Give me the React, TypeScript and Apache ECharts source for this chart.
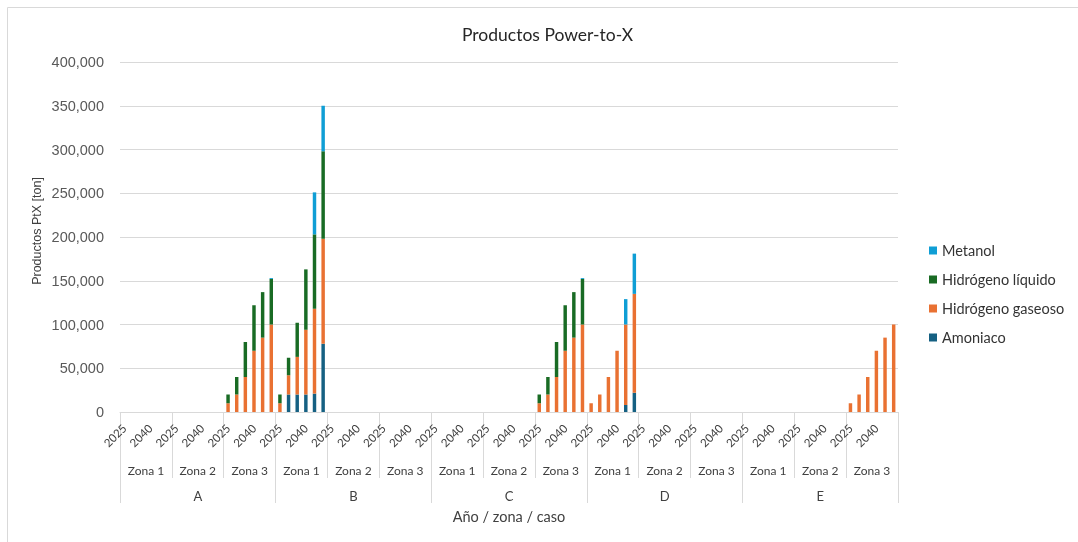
import React, { useEffect, useRef } from "react";
import * as echarts from "echarts";

const cases = ["A", "B", "C", "D", "E"];
const zones = ["Zona 1", "Zona 2", "Zona 3"];
const years = ["2025", "2030", "2035", "2040", "2045", "2050"];

// 90 values each: case A..E (rows) × zona 1..3 × años 2025..2050
const amoniaco = [
  0, 0, 0, 0, 0, 0, 0, 0, 0, 0, 0, 0, 0, 0, 0, 0, 0, 0,
  0, 20000, 20000, 20000, 21000, 78000, 0, 0, 0, 0, 0, 0, 0, 0, 0, 0, 0, 0,
  0, 0, 0, 0, 0, 0, 0, 0, 0, 0, 0, 0, 0, 0, 0, 0, 0, 0,
  0, 0, 0, 0, 8000, 22000, 0, 0, 0, 0, 0, 0, 0, 0, 0, 0, 0, 0,
  0, 0, 0, 0, 0, 0, 0, 0, 0, 0, 0, 0, 0, 0, 0, 0, 0, 0,
];
const hidrogenoGaseoso = [
  0, 0, 0, 0, 0, 0, 0, 0, 0, 0, 0, 0, 10000, 20000, 40000, 70000, 85000, 100000,
  10000, 22000, 43000, 74000, 97000, 120000, 0, 0, 0, 0, 0, 0, 0, 0, 0, 0, 0, 0,
  0, 0, 0, 0, 0, 0, 0, 0, 0, 0, 0, 0, 10000, 20000, 40000, 70000, 85000, 100000,
  10000, 20000, 40000, 70000, 92000, 113000, 0, 0, 0, 0, 0, 0, 0, 0, 0, 0, 0, 0,
  0, 0, 0, 0, 0, 0, 0, 0, 0, 0, 0, 0, 10000, 20000, 40000, 70000, 85000, 100000,
];
const hidrogenoLiquido = [
  0, 0, 0, 0, 0, 0, 0, 0, 0, 0, 0, 0, 10000, 20000, 40000, 52000, 52000, 52000,
  10000, 20000, 39000, 69000, 85000, 100000, 0, 0, 0, 0, 0, 0, 0, 0, 0, 0, 0, 0,
  0, 0, 0, 0, 0, 0, 0, 0, 0, 0, 0, 0, 10000, 20000, 40000, 52000, 52000, 52000,
  0, 0, 0, 0, 0, 0, 0, 0, 0, 0, 0, 0, 0, 0, 0, 0, 0, 0,
  0, 0, 0, 0, 0, 0, 0, 0, 0, 0, 0, 0, 0, 0, 0, 0, 0, 0,
];
const metanol = [
  0, 0, 0, 0, 0, 0, 0, 0, 0, 0, 0, 0, 0, 0, 0, 0, 0, 1000,
  0, 0, 0, 0, 48000, 52000, 0, 0, 0, 0, 0, 0, 0, 0, 0, 0, 0, 0,
  0, 0, 0, 0, 0, 0, 0, 0, 0, 0, 0, 0, 0, 0, 0, 0, 0, 1000,
  0, 0, 0, 0, 29000, 46000, 0, 0, 0, 0, 0, 0, 0, 0, 0, 0, 0, 0,
  0, 0, 0, 0, 0, 0, 0, 0, 0, 0, 0, 0, 0, 0, 0, 0, 0, 0,
];

const seriesNames = ["Amoniaco", "Hidrógeno gaseoso", "Hidrógeno líquido", "Metanol"];
const seriesColors = ["#156082", "#E97132", "#196B24", "#0F9ED5"];

const yearCats: string[] = [];
const zoneCats: string[] = [];
cases.forEach(() => zones.forEach((z) => { zoneCats.push(z); years.forEach((y) => yearCats.push(y)); }));

const TXT = "#404040";
const GRID = "#d9d9d9";

export default function App() {
  const ref = useRef<HTMLDivElement>(null);
  useEffect(() => {
    if (!ref.current) return;
    const chart = echarts.init(ref.current, undefined, { renderer: "svg" });
    const values = [amoniaco, hidrogenoGaseoso, hidrogenoLiquido, metanol];
    chart.setOption({
      animation: false,
      title: {
        text: "Productos Power-to-X",
        left: 457,
        top: 20,
        textStyle: { fontFamily: "Lato", fontSize: 17.5, fontWeight: "normal", color: "#262626" },
      },
      legend: {
        orient: "vertical",
        left: 929,
        top: 243,
        padding: 0,
        itemWidth: 8,
        itemHeight: 8,
        itemGap: 14,
        icon: "rect",
        data: ["Metanol", "Hidrógeno líquido", "Hidrógeno gaseoso", "Amoniaco"],
        textStyle: { fontFamily: "Lato", fontSize: 14.5, color: "#333333" },
      },
      grid: { left: 120, right: 180, top: 62, bottom: 130 },
      xAxis: [
        {
          type: "category",
          data: yearCats,
          position: "bottom",
          axisLine: { lineStyle: { color: GRID } },
          axisTick: { show: false },
          axisLabel: { interval: 2, rotate: 45, margin: 14, fontFamily: "Lato", fontSize: 11.5, color: TXT },
        },
        {
          type: "category",
          data: zoneCats,
          position: "bottom",
          offset: 66,
          axisLine: { show: false },
          axisTick: { show: true, inside: true, length: 66, lineStyle: { color: GRID } },
          axisLabel: { inside: true, interval: 0, margin: 2, fontFamily: "Lato", fontSize: 12, color: TXT },
        },
        {
          type: "category",
          data: cases,
          position: "bottom",
          offset: 91,
          axisLine: { show: false },
          axisTick: { show: true, inside: true, length: 91, lineStyle: { color: GRID } },
          axisLabel: { inside: true, interval: 0, margin: 1, fontFamily: "Lato", fontSize: 13, color: TXT },
          name: "Año / zona / caso",
          nameLocation: "middle",
          nameGap: 5,
          nameTextStyle: { fontFamily: "Lato", fontSize: 14.5, color: TXT, verticalAlign: "top" },
        },
      ],
      yAxis: {
        type: "value",
        min: 0,
        max: 400000,
        interval: 50000,
        axisLine: { show: false },
        axisTick: { show: false },
        splitLine: { lineStyle: { color: GRID } },
        axisLabel: {
          margin: 16,
          fontFamily: "Liberation Sans",
          fontSize: 14.5,
          color: "#595959",
          formatter: (v: number) => v.toLocaleString("en-US"),
        },
      },
      graphic: [
        {
          type: "rect",
          silent: true,
          shape: { x: 7.5, y: 7.5, width: 1100, height: 540 },
          style: { fill: "none", stroke: GRID, lineWidth: 1 },
        },
        {
          type: "text",
          x: 37,
          y: 231,
          rotation: Math.PI / 2,
          style: {
            text: "Productos PtX [ton]",
            fontFamily: "Liberation Sans",
            fontSize: 12.5,
            fill: TXT,
            align: "center",
            verticalAlign: "middle",
          },
        },
      ],
      series: seriesNames.map((name, i) => ({
        name,
        type: "bar",
        stack: "total",
        xAxisIndex: 0,
        barWidth: "40%",
        itemStyle: { color: seriesColors[i] },
        data: values[i],
      })),
    });
    return () => chart.dispose();
  }, []);
  return <div ref={ref} style={{ position: "fixed", left: 0, top: 0, width: 1078, height: 542 }} />;
}
